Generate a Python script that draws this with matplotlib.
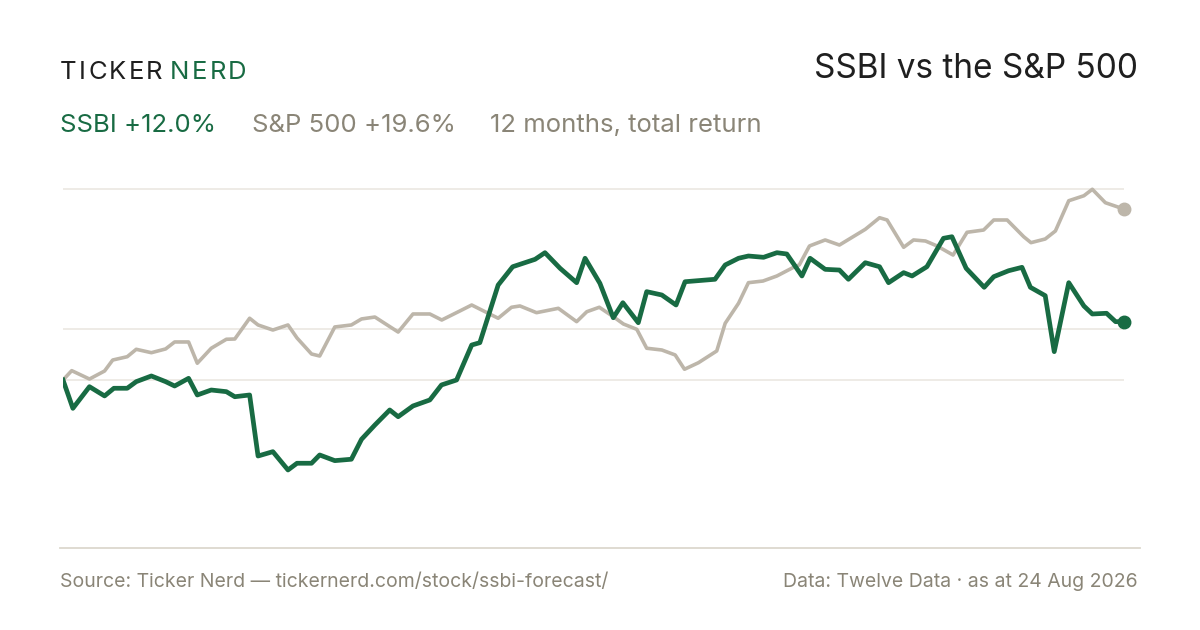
import matplotlib
matplotlib.use("Agg")
import matplotlib.pyplot as plt
from matplotlib.lines import Line2D

plt.rcParams['font.family'] = ['Inter', 'DejaVu Sans']

# days since 24 Aug 2025, rebased return (%)
spx_days = [0, 3.0, 9.1, 14.3, 17.1, 22.1, 25.2, 30.4, 35.3, 38.4, 43.2, 46.2, 51.0, 56.2,
            59.1, 64.2, 67.1, 72.2, 77.4, 80.5, 85.5, 88.3, 93.5, 99.2, 102.7, 107.3, 115.3,
            120.4, 126.2, 130.3, 136.5, 140.6, 149.7, 154.3, 157.2, 162.9, 170.4, 176.7,
            180.2, 184.5, 189.3, 192.8, 197.4, 200.8, 206.0, 210.6, 213.8, 218.6, 224.9,
            227.8, 232.4, 235.8, 240.8, 245.6, 251.3, 253.3, 256.8, 262.2, 267.1, 276.0,
            280.9, 283.5, 289.2, 292.6, 296.7, 300.7, 306.2, 311.0, 316.7, 320.2, 324.8,
            330.5, 333.0, 337.9, 341.4, 346.0, 351.2, 354.1, 358.6, 365]
spx_ret = [0.0, 1.07, 0.11, 1.03, 2.29, 2.67, 3.52, 3.13, 3.56, 4.36, 4.36, 1.92, 3.64, 4.67,
           4.70, 7.08, 6.31, 5.73, 6.31, 4.82, 2.98, 2.75, 6.08, 6.31, 7.0, 7.22, 5.50,
           7.57, 7.57, 6.88, 7.91, 8.60, 7.08, 8.34, 8.49, 7.72, 8.22, 6.69,
           7.83, 8.34, 7.26, 6.42, 5.81, 3.64, 3.44, 2.87, 1.23, 1.98, 3.33,
           6.50, 8.80, 11.16, 11.35, 11.93, 12.92, 13.2, 15.37, 16.06, 15.48, 17.28,
           18.61, 18.35, 15.22, 16.06, 15.94, 15.37, 14.33, 16.94, 17.20, 18.35, 18.35,
           16.43, 15.75, 16.17, 17.09, 20.56, 21.13, 21.87, 20.33, 19.6]

ssbi_days = [0, 3.4, 9.1, 14.3, 17.5, 22.1, 25.2, 30.4, 35.3, 38.4, 43.2, 46.2, 51.0, 56.2,
             59.1, 64.2, 67.1, 72.2, 77.4, 80.5, 85.5, 88.3, 93.5, 99.2, 102.7, 107.3, 112.4,
             115.3, 120.4, 126.2, 130.2, 135.4, 140.6, 143.4, 149.7, 154.7, 162.4, 165.8,
             171.0, 176.7, 179.6, 184.7, 189.3, 192.6, 197.9, 200.8, 206.0, 210.9, 214.0,
             224.3, 227.8, 232.4, 235.8, 241.0, 245.6, 249.0, 254.2, 257.0, 262.2, 267.1,
             270.2, 276.0, 280.9, 284.0, 289.2, 292.1, 297.2, 302.9, 305.8, 310.7, 316.9,
             320.2, 325.3, 329.9, 332.8, 337.9, 341.0, 346.0, 351.2, 354.1, 359.0, 362.1, 365]
ssbi_ret = [0, -3.25, -0.77, -1.83, -0.95, -0.95, -0.19, 0.46, -0.19, -0.69, 0.19, -1.72, -1.15, -1.34,
            -1.92, -1.72, -8.72, -8.22, -10.32, -9.55, -9.55, -8.60, -9.25, -9.09, -6.80, -5.16, -3.44,
            -4.21, -2.98, -2.29, -0.57, 0.0, 4.01, 4.28, 10.89, 12.99, 13.84, 14.60,
            12.81, 11.16, 13.96, 11.09, 7.14, 8.86, 6.57, 10.13, 9.75, 8.60, 11.27,
            11.55, 13.19, 13.96, 14.22, 14.07, 14.60, 14.45, 11.93, 13.96, 12.69, 12.61,
            11.55, 13.45, 12.99, 11.16, 12.31, 11.93, 12.99, 16.25, 16.43, 12.81, 10.63,
            11.85, 12.53, 12.92, 10.63, 9.67, 3.25, 11.16, 8.49, 7.57, 7.65, 6.69, 6.69]

grid_levels = [0, 5.85, 21.9]

GREEN = '#186b43'
SAND = '#bdb6aa'
MUTED = '#8a8577'
INK = '#1f1f1f'

fig = plt.figure(figsize=(12, 6.3), dpi=100, facecolor='white')
ax = fig.add_axes([63 / 1200, 1 - 548 / 630, (1124 - 63) / 1200, (548 - 175) / 630])
ax.set_xlim(0, 365)
ax.set_ylim(-19.27, 23.51)
ax.axis('off')

for g in grid_levels:
    ax.axhline(g, color='#ebe8e1', lw=1.2, zorder=1)

ax.plot(spx_days, spx_ret, color=SAND, lw=2.6, solid_joinstyle='round', zorder=2)
ax.plot(ssbi_days, ssbi_ret, color=GREEN, lw=3.4, solid_joinstyle='round', zorder=3)
ax.plot(spx_days[-1], spx_ret[-1], 'o', color=SAND, ms=9, zorder=4, clip_on=False)
ax.plot(ssbi_days[-1], ssbi_ret[-1], 'o', color=GREEN, ms=9, zorder=4, clip_on=False)


def fx(x, y):
    return x / 1200, 1 - y / 630


# bottom rule
fig.add_artist(Line2D([60 / 1200, 1140 / 1200], [1 - 548 / 630] * 2, color='#dcd8ce', lw=1.3))

# logo with letter spacing
renderer = fig.canvas.get_renderer()
x = 60
for word, col in [('TICKER', INK), ('NERD', GREEN)]:
    for ch in word:
        t = fig.text(*fx(x, 79), ch, fontsize=18.5, color=col, ha='left', va='baseline')
        x += t.get_window_extent(renderer).width + 2.3
    x += 5

fig.text(*fx(1138, 78), 'SSBI vs the S&P 500', fontsize=24, color=INK, ha='right', va='baseline')

fig.text(*fx(60, 132), 'SSBI +12.0%', fontsize=18.5, color=GREEN, ha='left', va='baseline')
fig.text(*fx(252, 132), 'S&P 500 +19.6%', fontsize=18.5, color=MUTED, ha='left', va='baseline')
fig.text(*fx(490, 132), '12 months, total return', fontsize=18.5, color=MUTED, ha='left', va='baseline')

fig.text(*fx(60, 587), 'Source: Ticker Nerd \u2014 tickernerd.com/stock/ssbi-forecast/', fontsize=14,
         color=MUTED, ha='left', va='baseline')
fig.text(*fx(1138, 587), 'Data: Twelve Data \u00b7 as at 24 Aug 2026', fontsize=14,
         color=MUTED, ha='right', va='baseline')

fig.savefig('out.png', dpi=100, facecolor='white')
